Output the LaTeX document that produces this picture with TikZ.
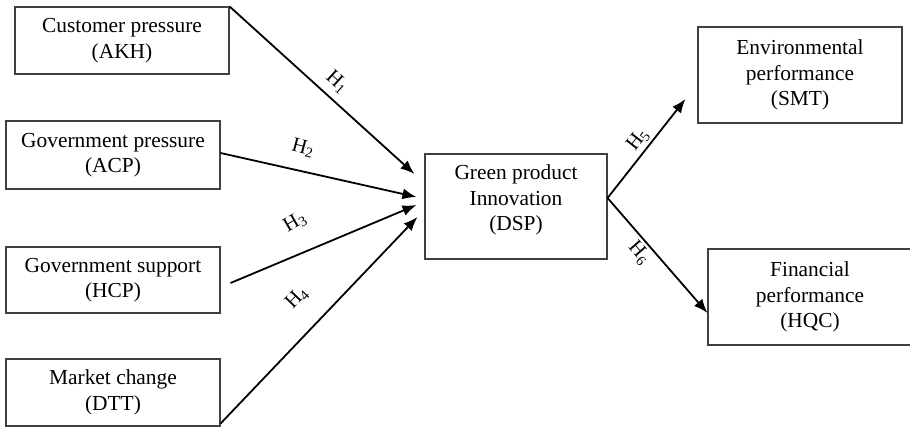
\documentclass[tikz,border=0pt]{standalone}
\usepackage{fontspec}
\setmainfont{Liberation Serif}
\usetikzlibrary{arrows.meta}
\begin{document}
\begin{tikzpicture}[x=1pt,y=-1pt,
  box/.style={draw=black!75,line width=1.1pt,align=center,inner sep=0pt,
    font=\fontsize{21.4}{25.5}\selectfont},
  conn/.style={line width=1.8pt,-{Latex[length=14pt,width=11pt]}},
  hlab/.style={font=\fontsize{20.5}{22}\selectfont,inner sep=1pt}]
\useasboundingbox (0,0) rectangle (910,426);
\node[box,minimum width=214pt,minimum height=67pt] (akh) at (122,40.5) {Customer pressure\\(AKH)};
\node[box,minimum width=214pt,minimum height=68pt] (acp) at (113,155) {Government pressure\\(ACP)};
\node[box,minimum width=214pt,minimum height=66pt] (hcp) at (113,280) {Government support\\(HCP)};
\node[box,minimum width=214pt,minimum height=67pt] (dtt) at (113,392.5) {Market change\\(DTT)};
\node[box,minimum width=182pt,minimum height=105pt] (dsp) at (516,206.5) {Green product\\Innovation\\(DSP)\rule[-17pt]{0pt}{1pt}};
\node[box,minimum width=204pt,minimum height=96pt] (smt) at (800,75) {Environmental\\performance\\(SMT)};
\node[box,minimum width=204pt,minimum height=96pt] (hqc) at (810,297) {Financial\\performance\\(HQC)};
\draw[conn] (akh.north east) -- ([shift={(-10,-32.5)}]dsp.west);
\draw[conn] ([yshift=2pt]acp.east) -- ([shift={(-8,-9.5)}]dsp.west);
\draw[conn] ([shift={(10,3)}]hcp.east) -- ([shift={(-8,-1.5)}]dsp.west);
\draw[conn] ([yshift=3pt]dtt.south east) -- ([shift={(-7,10.5)}]dsp.west);
\draw[conn] ([yshift=8.5pt]dsp.east) -- ([shift={(-12,24)}]smt.west);
\draw[conn] ([yshift=8.5pt]dsp.east) -- ([shift={(0,16)}]hqc.west);
\node[hlab,rotate=-42] (h1) at (337,82) {H\textsubscript{1}};
\node[hlab,rotate=-15] (h2) at (303,148) {H\textsubscript{2}};
\node[hlab,rotate=30] (h3) at (295,222) {H\textsubscript{3}};
\node[hlab,rotate=46] (h4) at (297,298) {H\textsubscript{4}};
\node[hlab,rotate=52] (h5) at (638,140) {H\textsubscript{5}};
\node[hlab,rotate=-49] (h6) at (639,253) {H\textsubscript{6}};
\end{tikzpicture}
\end{document}
